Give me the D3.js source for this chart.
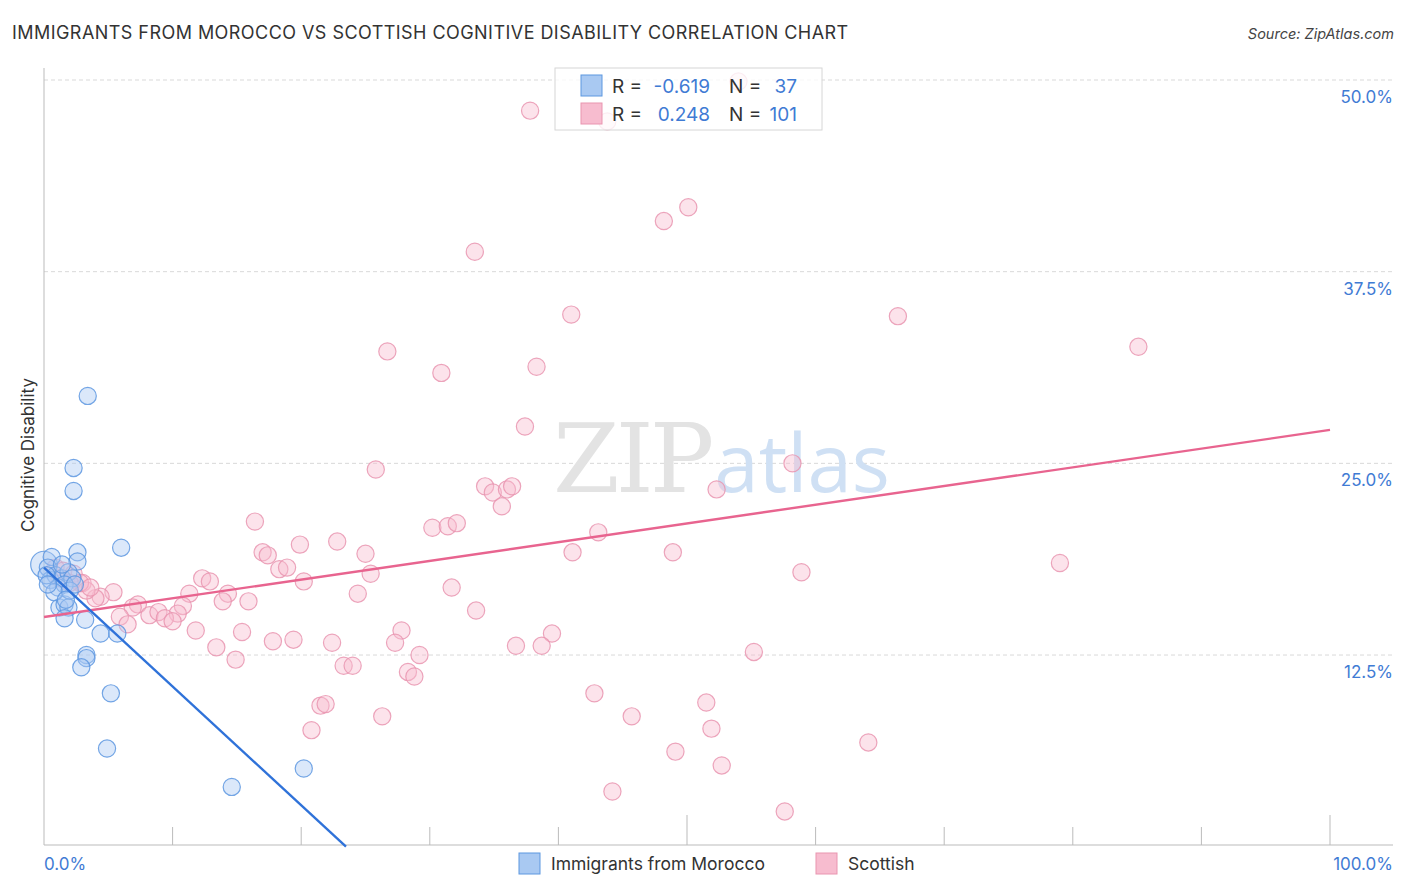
<!DOCTYPE html>
<html>
<head>
<meta charset="utf-8">
<script src="https://cdn.jsdelivr.net/npm/d3@7"></script>
<style>
  body { margin: 0; background: #fff; }
  svg { display: block; font-family: "Inter", "Roboto", sans-serif; }
</style>
</head>
<body>
<svg id="chart" width="1406" height="892"></svg>
<script>
// ---- data (percent values) ----
const moroccoX = [3.4, 2.3, 2.3, 6.0, 2.6, 2.6, 3.2, 4.4, 5.7, 3.3, 3.3, 2.9, 5.2, 4.9, 14.6, 20.2,
  1.2, 1.6, 1.9, 1.6, 0.0, 0.6, 0.3, 0.5, 0.9, 1.4, 1.9, 2.2, 1.1, 1.6, 0.2, 0.8, 2.0, 2.4, 1.4, 1.7, 0.3];
const moroccoY = [29.4, 24.7, 23.2, 19.5, 19.2, 18.6, 14.8, 13.9, 13.9, 12.5, 12.3, 11.7, 10.0, 6.4, 3.9, 5.1,
  15.6, 15.8, 15.6, 14.9, 18.4, 18.9, 18.2, 17.4, 17.7, 17.5, 17.9, 17.5, 16.9, 17.1, 17.7, 16.6, 16.7, 17.1, 18.4, 16.1, 17.1];
// relative population weight (one large bubble at the origin)
const moroccoW = moroccoX.map((d, i) => i === 20 ? 2.4 : 1);

const scottishX = [54.0, 37.8, 43.8, 48.2, 50.1, 33.5, 41.0, 66.4, 85.1, 26.7, 38.3, 30.9, 37.4, 58.2, 25.8,
  34.3, 34.9, 36.0, 36.4, 35.6, 52.3, 30.2, 31.4, 32.1, 43.1, 16.4, 22.8, 19.9, 17.0, 17.4,
  25.0, 41.1, 48.9, 79.0, 18.3, 18.9, 25.4, 58.9, 12.3, 12.9, 20.2, 31.7, 24.4, 11.3, 14.3,
  13.9, 15.9, 10.8, 10.4, 33.6, 11.8, 15.4, 39.5, 27.8, 17.8, 19.4, 22.4, 27.3, 36.7, 38.7,
  13.4, 55.2, 29.2, 14.9, 23.3, 24.0, 28.3, 28.8, 42.8, 51.5, 21.5, 21.9, 26.3, 45.7, 20.8,
  51.9, 64.1, 49.1, 52.7, 44.2, 57.6, 5.4, 4.4, 4.0, 7.3, 6.9, 8.2, 8.9, 9.4, 10.0,
  5.9, 6.5, 3.0, 3.3, 0.9, 1.5, 2.3, 2.8, 2.0, 1.2, 3.6];
const scottishY = [49.9, 48.0, 47.3, 40.8, 41.7, 38.8, 34.7, 34.6, 32.6, 32.3, 31.3, 30.9, 27.4, 25.0, 24.6,
  23.5, 23.1, 23.3, 23.5, 22.2, 23.3, 20.8, 20.9, 21.1, 20.5, 21.2, 19.9, 19.7, 19.2, 19.0,
  19.1, 19.2, 19.2, 18.5, 18.1, 18.2, 17.8, 17.9, 17.5, 17.3, 17.3, 16.9, 16.5, 16.5, 16.5,
  16.0, 16.0, 15.7, 15.2, 15.4, 14.1, 14.0, 13.9, 14.1, 13.4, 13.5, 13.3, 13.3, 13.1, 13.1,
  13.0, 12.7, 12.5, 12.2, 11.8, 11.8, 11.4, 11.1, 10.0, 9.4, 9.2, 9.3, 8.5, 8.5, 7.6,
  7.7, 6.8, 6.2, 5.3, 3.6, 2.3, 16.6, 16.3, 16.2, 15.8, 15.6, 15.1, 15.3, 14.9, 14.7,
  15.0, 14.5, 17.2, 16.7, 18.2, 18.0, 17.8, 17.2, 17.2, 17.5, 16.9];

// trend lines [intercept, slope]
const moroccoTrend = [18.2, -0.775];
const scottishTrend = [14.98, 0.122];

const seriesNames = ["Immigrants from Morocco", "Scottish"];
const seriesR = ["-0.619", "0.248"];
const seriesN = ["37", "101"];
const yTicks = [12.5, 25, 37.5, 50];
const xTicks = [0, 10, 20, 30, 40, 50, 60, 70, 80, 90, 100];

// ---- setup ----
const svg = d3.select("#chart");
const plot = { left: 44, right: 1330, top: 68, bottom: 845, gridRight: 1393 };

const x = d3.scaleLinear().domain([0, 100]).range([plot.left, plot.right]);
const y = d3.scaleLinear().domain([0, 50]).range([846.7, 80]);
const r = d3.scaleSqrt().domain([0, 1]).range([0, 8.6]);

const blue = { fill: "#a9c9f2", stroke: "#5d97e0", line: "#2f72d9" };
const pink = { fill: "#f7bccf", stroke: "#e995b0", line: "#e8648f" };
const labelBlue = "#3f7bd4";

// title + source
svg.append("text").attr("x", 12).attr("y", 39)
  .attr("font-size", 18).attr("letter-spacing", 0.45).attr("fill", "#333")
  .text("IMMIGRANTS FROM MOROCCO VS SCOTTISH COGNITIVE DISABILITY CORRELATION CHART");
svg.append("text").attr("x", 1394).attr("y", 39)
  .attr("text-anchor", "end").attr("font-size", 14.5).attr("font-style", "italic").attr("fill", "#444")
  .text("Source: ZipAtlas.com");

// gridlines
svg.append("g").selectAll("line").data(yTicks).join("line")
  .attr("x1", plot.left).attr("x2", plot.gridRight)
  .attr("y1", d => y(d)).attr("y2", d => y(d))
  .attr("stroke", "#d9d9d9").attr("stroke-dasharray", "4,3");

// y tick labels (right side)
svg.append("g").selectAll("text").data(yTicks).join("text")
  .attr("x", plot.gridRight).attr("y", d => y(d) + 23)
  .attr("text-anchor", "end").attr("font-size", 17).attr("fill", labelBlue)
  .text(d => d3.format(".1f")(d) + "%");

// axes lines
svg.append("line").attr("x1", plot.left).attr("x2", plot.left)
  .attr("y1", plot.top).attr("y2", plot.bottom).attr("stroke", "#bbb");
svg.append("line").attr("x1", plot.left).attr("x2", plot.gridRight)
  .attr("y1", plot.bottom).attr("y2", plot.bottom).attr("stroke", "#bbb");

// x ticks
svg.append("g").selectAll("line").data(xTicks.slice(1)).join("line")
  .attr("x1", d => x(d)).attr("x2", d => x(d))
  .attr("y1", d => d % 50 === 0 ? 815 : 827).attr("y2", plot.bottom)
  .attr("stroke", "#bbb");

svg.append("text").attr("x", plot.left).attr("y", 870)
  .attr("font-size", 17).attr("fill", labelBlue).text("0.0%");
svg.append("text").attr("x", plot.gridRight).attr("y", 870).attr("text-anchor", "end")
  .attr("font-size", 17).attr("fill", labelBlue).text("100.0%");

// y axis title
svg.append("text")
  .attr("transform", "translate(34,455) rotate(-90)")
  .attr("text-anchor", "middle").attr("font-size", 17).attr("fill", "#333")
  .text("Cognitive Disability");

// watermark
const wm = svg.append("text").attr("x", 553).attr("y", 492);
wm.append("tspan").attr("font-family", "DejaVu Serif, serif").attr("font-size", 96)
  .attr("fill", "#e3e3e3").attr("letter-spacing", -4).text("ZIP");
wm.append("tspan").attr("font-family", "Open Sans, sans-serif").attr("font-size", 80)
  .attr("fill", "#cfe0f4").attr("dx", 4).text("atlas");

// points
function drawPoints(xs, ys, ws, col) {
  svg.append("g").selectAll("circle").data(xs.map((d, i) => ({ x: d, y: ys[i], w: ws ? ws[i] : 1 })))
    .join("circle")
    .attr("cx", d => x(d.x)).attr("cy", d => y(d.y)).attr("r", d => r(d.w))
    .attr("fill", col.fill).attr("fill-opacity", 0.42)
    .attr("stroke", col.stroke).attr("stroke-width", 1.2).attr("stroke-opacity", 0.85);
}
drawPoints(scottishX, scottishY, null, pink);
drawPoints(moroccoX, moroccoY, moroccoW, blue);

// trend lines
function trendLine(t, col) {
  let xEnd = 100;
  if (t[1] < 0) xEnd = Math.min(100, -t[0] / t[1]);
  svg.append("line")
    .attr("x1", x(0)).attr("y1", y(t[0]))
    .attr("x2", x(xEnd)).attr("y2", y(t[0] + t[1] * xEnd))
    .attr("stroke", col.line).attr("stroke-width", 2.4);
}
trendLine(scottishTrend, pink);
trendLine(moroccoTrend, blue);

// top legend box (semi-transparent, points show faintly through)
const lg = svg.append("g");
lg.append("rect").attr("x", 555).attr("y", 68).attr("width", 267).attr("height", 62)
  .attr("fill", "#fff").attr("fill-opacity", 0.8).attr("stroke", "#d6d6d6");
[blue, pink].forEach((col, i) => {
  const yy = 86 + i * 28;
  lg.append("rect").attr("x", 581).attr("y", yy - 11).attr("width", 21).attr("height", 21)
    .attr("fill", col.fill).attr("stroke", col.stroke);
  lg.append("text").attr("x", 612).attr("y", yy + 7).attr("font-size", 19).attr("fill", "#333").text("R =");
  lg.append("text").attr("x", 710).attr("y", yy + 7).attr("text-anchor", "end")
    .attr("font-size", 19).attr("fill", labelBlue).text(seriesR[i]);
  lg.append("text").attr("x", 729).attr("y", yy + 7).attr("font-size", 19).attr("fill", "#333").text("N =");
  lg.append("text").attr("x", 797).attr("y", yy + 7).attr("text-anchor", "end")
    .attr("font-size", 19).attr("fill", labelBlue).text(seriesN[i]);
});

// bottom legend
const bl = svg.append("g");
const blX = [519, 816];
[blue, pink].forEach((col, i) => {
  bl.append("rect").attr("x", blX[i]).attr("y", 853).attr("width", 21).attr("height", 21)
    .attr("fill", col.fill).attr("stroke", col.stroke);
  bl.append("text").attr("x", blX[i] + 32).attr("y", 870).attr("font-size", 17.5).attr("fill", "#333")
    .text(seriesNames[i]);
});
</script>
</body>
</html>
